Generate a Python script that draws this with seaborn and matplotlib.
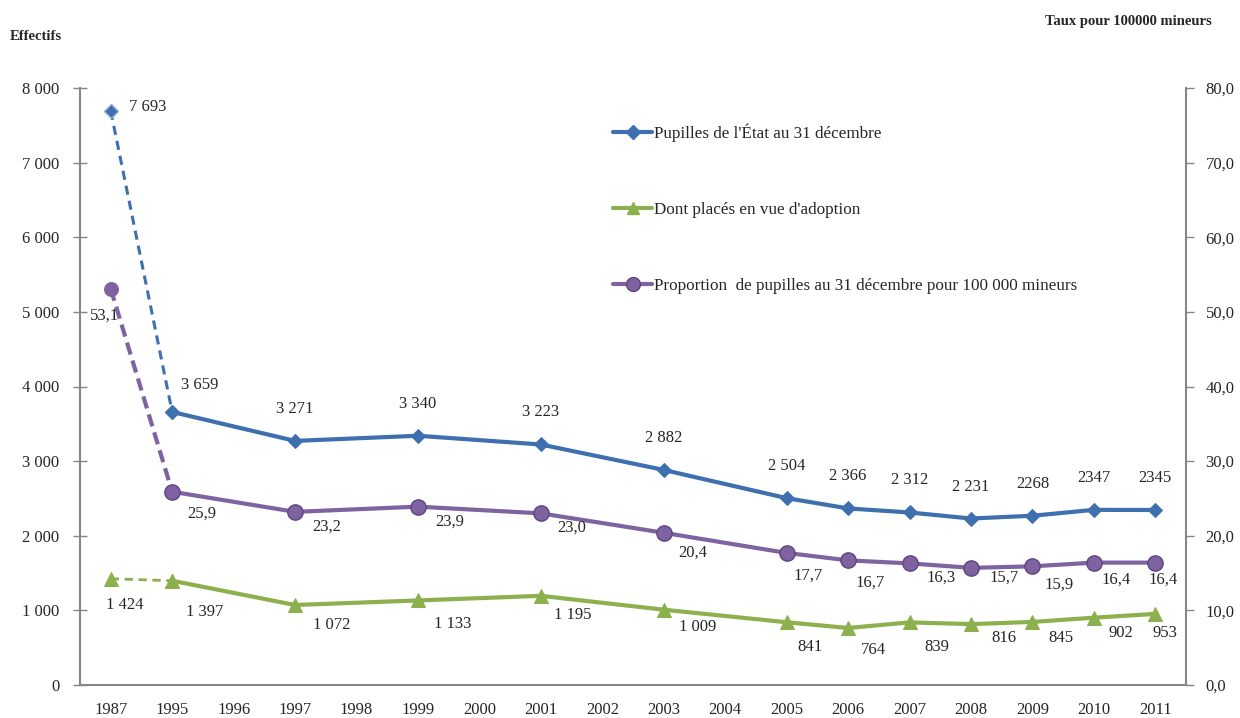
import pandas as pd
import matplotlib.pyplot as plt
import seaborn as sns
from matplotlib.lines import Line2D

# --- data ---
categories = ['1987', '1995', '1996', '1997', '1998', '1999', '2000', '2001', '2002',
              '2003', '2004', '2005', '2006', '2007', '2008', '2009', '2010', '2011']
years = ['1987', '1995', '1997', '1999', '2001', '2003', '2005', '2006', '2007',
         '2008', '2009', '2010', '2011']
pupilles = [7693, 3659, 3271, 3340, 3223, 2882, 2504, 2366, 2312, 2231, 2268, 2347, 2345]
pupilles_txt = ['7 693', '3 659', '3 271', '3 340', '3 223', '2 882', '2 504', '2 366',
                '2 312', '2 231', '2268', '2347', '2345']
adoption = [1424, 1397, 1072, 1133, 1195, 1009, 841, 764, 839, 816, 845, 902, 953]
proportion = [53.1, 25.9, 23.2, 23.9, 23.0, 20.4, 17.7, 16.7, 16.3, 15.7, 15.9, 16.4, 16.4]

blue = '#3E6FAE'
green = '#8DB04E'
purple = '#7F62A0'
axis_grey = '#868686'

df = pd.DataFrame({'year': years, 'pupilles': pupilles,
                   'adoption': adoption, 'proportion': proportion})
df['pos'] = [categories.index(y) for y in df['year']]

sns.set_style('white')
plt.rcParams['font.family'] = ['Liberation Serif', 'DejaVu Serif']
plt.rcParams['font.size'] = 12

fig = plt.figure(figsize=(12.4, 7.18), dpi=100)
ax = fig.add_axes([80 / 1240, 1 - 685 / 718, 1106 / 1240, 597 / 718])
ax2 = ax.twinx()

first = df.iloc[:2]
rest = df.iloc[1:]

# left axis series (1987-1995 dashed)
sns.lineplot(data=first, x='pos', y='pupilles', ax=ax, color=blue, lw=2.2, ls=(0, (3, 2)),
             marker='D', markersize=7, markeredgecolor='#8FB0DA', markeredgewidth=1)
sns.lineplot(data=rest, x='pos', y='pupilles', ax=ax, color=blue, lw=3,
             marker='D', markersize=7, markeredgecolor=blue)
sns.lineplot(data=first, x='pos', y='adoption', ax=ax, color=green, lw=2, ls=(0, (3, 2)),
             marker='^', markersize=10, markeredgecolor=green)
sns.lineplot(data=rest, x='pos', y='adoption', ax=ax, color=green, lw=3,
             marker='^', markersize=10, markeredgecolor=green)

# right axis series
sns.lineplot(data=first, x='pos', y='proportion', ax=ax2, color=purple, lw=3, ls=(0, (3, 1.5)),
             marker='o', markersize=10, markeredgecolor=purple)
sns.lineplot(data=rest, x='pos', y='proportion', ax=ax2, color=purple, lw=3,
             marker='o', markersize=11, markeredgecolor='#5E4580', markeredgewidth=1)

# value label offsets, in pixels
blue_off = [(37, 4), (28, 27)] + [(0, 32)] * 11
green_off = [(14, -26), (33, -31), (37, -20), (35, -24), (32, -19), (34, -17), (23, -25),
             (25, -22), (27, -25), (33, -14), (29, -16), (27, -15), (10, -19)]
purple_off = [(-6, -27), (30, -22), (32, -15), (32, -15), (31, -14), (29, -20), (21, -23),
              (22, -22), (32, -14), (33, -10), (27, -18), (22, -17), (8, -17)]
for i, row in df.iterrows():
    ax.annotate(pupilles_txt[i], (row['pos'], row['pupilles']), xytext=blue_off[i],
                textcoords='offset pixels', ha='center', va='center')
    ax.annotate(f"{row['adoption']:,}".replace(',', ' '), (row['pos'], row['adoption']),
                xytext=green_off[i], textcoords='offset pixels', ha='center', va='center')
    ax2.annotate(f"{row['proportion']:.1f}".replace('.', ','), (row['pos'], row['proportion']),
                 xytext=purple_off[i], textcoords='offset pixels', ha='center', va='center')

# axes styling
ax.set_xlim(-0.5, len(categories) - 0.5)
ax.set_ylim(0, 8000)
ax2.set_ylim(0, 80)
ax.set_xticks([i - 0.5 for i in range(len(categories) + 1)])
ax.set_xticklabels([])
ax.set_xticks(range(len(categories)), minor=True)
ax.set_xticklabels(categories, minor=True)
ax.tick_params(axis='x', which='major', direction='out', length=7, color=axis_grey, width=1)
ax.tick_params(axis='x', which='minor', length=0, pad=12)
ax.set_yticks(range(0, 8001, 1000))
ax.set_yticklabels([f"{v:,}".replace(',', ' ') for v in range(0, 8001, 1000)])
ax.tick_params(axis='y', direction='inout', length=10, color=axis_grey, width=1, pad=10)
ax2.set_yticks(range(0, 81, 10))
ax2.set_yticklabels([f"{v:.1f}".replace('.', ',') for v in range(0, 81, 10)])
ax2.tick_params(axis='y', direction='out', length=6, color=axis_grey, width=1, pad=8)
for a in (ax, ax2):
    a.set_xlabel('')
    a.set_ylabel('')
    for s in ('left', 'right', 'bottom'):
        a.spines[s].set_color(axis_grey)
        a.spines[s].set_linewidth(1.5)
    a.spines['top'].set_visible(False)
ax.spines['right'].set_visible(False)
ax2.spines['left'].set_visible(False)
ax2.spines['bottom'].set_visible(False)

fig.text(10 / 1240, 1 - 37 / 718, 'Effectifs', fontsize=10.5, fontweight='bold', va='center')
fig.text(1212 / 1240, 1 - 22 / 718, 'Taux pour 100000 mineurs', fontsize=10.5,
         fontweight='bold', va='center', ha='right')

handles = [Line2D([], [], color=blue, lw=3, marker='D', markersize=7),
           Line2D([], [], color=green, lw=3, marker='^', markersize=9),
           Line2D([], [], color=purple, lw=3, marker='o', markersize=10,
                  markeredgecolor='#5E4580', markeredgewidth=1)]
labels = ["Pupilles de l'État au 31 décembre", "Dont placés en vue d'adoption",
          "Proportion  de pupilles au 31 décembre pour 100 000 mineurs"]
ax.legend(handles, labels, loc='upper left', bbox_to_anchor=(0.468, 0.966), frameon=False,
          handlelength=2.3, handletextpad=0.1, labelspacing=3.5, fontsize=12.3)

plt.savefig('out.png', dpi=100)
